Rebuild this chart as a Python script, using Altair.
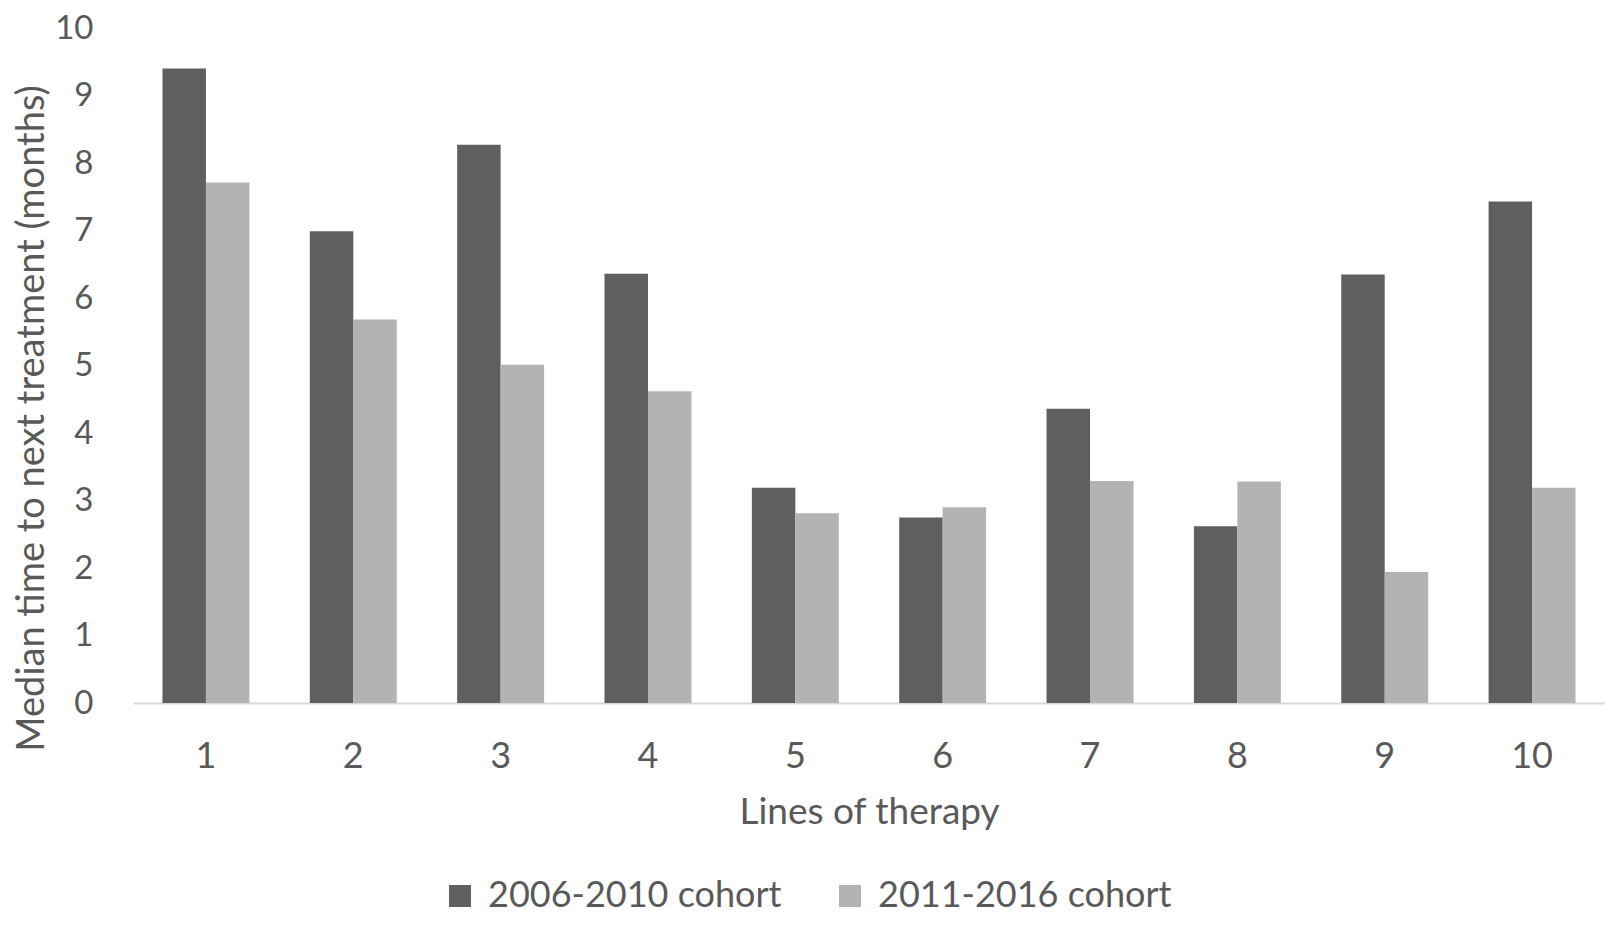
import altair as alt
import pandas as pd

lines = ["1", "2", "3", "4", "5", "6", "7", "8", "9", "10"]
cohorts = ["2006-2010 cohort", "2011-2016 cohort"]
values_2006 = [9.40, 6.99, 8.27, 6.36, 3.19, 2.75, 4.36, 2.62, 6.35, 7.43]
values_2011 = [7.71, 5.68, 5.01, 4.62, 2.81, 2.90, 3.29, 3.28, 1.94, 3.19]
colors = ["#5f5f5f", "#b3b3b3"]
y_ticks = [0, 1, 2, 3, 4, 5, 6, 7, 8, 9, 10]

rows = []
for i, ln in enumerate(lines):
    rows.append({"line": ln, "cohort": cohorts[0], "value": values_2006[i]})
    rows.append({"line": ln, "cohort": cohorts[1], "value": values_2011[i]})
df = pd.DataFrame(rows)

text_color = "#595959"

chart = (
    alt.Chart(df)
    .mark_bar()
    .encode(
        x=alt.X(
            "line:O",
            sort=lines,
            scale=alt.Scale(paddingInner=0.41, paddingOuter=0.2),
            axis=alt.Axis(
                title="Lines of therapy",
                labelAngle=0,
                ticks=False,
                tickSize=0,
                domainColor="#d9d9d9",
                domainWidth=2,
                labelFontSize=36,
                labelPadding=36,
                labelColor=text_color,
                titleFontSize=37,
                titleFontWeight="normal",
                titleColor=text_color,
                titlePadding=20,
                grid=False,
            ),
        ),
        xOffset=alt.XOffset("cohort:N", sort=cohorts),
        y=alt.Y(
            "value:Q",
            scale=alt.Scale(domain=[0, 10]),
            axis=alt.Axis(
                title="Median time to next treatment (months)",
                values=y_ticks,
                domain=False,
                ticks=False,
                tickSize=0,
                grid=False,
                labelFontSize=33,
                labelPadding=40,
                labelColor=text_color,
                titleFontSize=38,
                titleFontWeight="normal",
                titleColor=text_color,
                titleAngle=270,
                titleAlign="center",
                titleBaseline="middle",
                titleX=-101,
                titleY=390,
            ),
        ),
        color=alt.Color(
            "cohort:N",
            sort=cohorts,
            scale=alt.Scale(domain=cohorts, range=colors),
            legend=alt.Legend(
                title=None,
                orient="none",
                direction="horizontal",
                legendX=309,
                legendY=850,
                symbolType="square",
                symbolSize=484,
                symbolStrokeWidth=0,
                labelFontSize=36,
                labelColor=text_color,
                labelOffset=10,
                labelLimit=0,
                columnPadding=50,
                padding=0,
            ),
        ),
    )
    .properties(
        width=1472,
        height=675,
        padding={"left": 125, "top": 20, "right": 0, "bottom": 212},
        autosize=alt.AutoSizeParams(type="none"),
    )
    .configure(font="Lato")
    .configure_view(stroke=None)
)

chart.save("out.html", embed_options={"renderer": "svg", "actions": False})
